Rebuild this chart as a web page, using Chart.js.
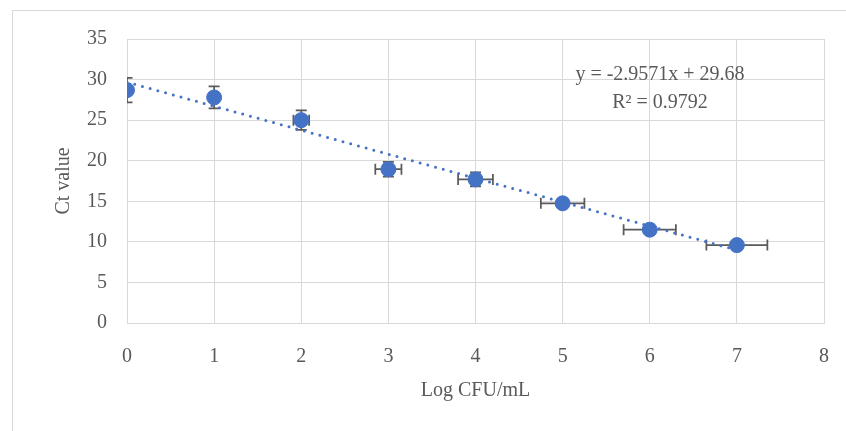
<!DOCTYPE html>
<html>
<head>
<meta charset="utf-8">
<script src="https://cdn.jsdelivr.net/npm/chart.js@4"></script>
<style>
  html, body { margin: 0; padding: 0; background: #fff; overflow: hidden; }
  #wrap { position: relative; width: 846px; height: 431px; }
  #frame { position: absolute; left: 12px; top: 10px; width: 1000px; height: 1000px; border: 1px solid #d9d9d9; pointer-events: none; }
</style>
</head>
<body>
<div id="wrap">
  <canvas id="ctChart" width="846" height="431"></canvas>
  <div id="frame"></div>
</div>
<script>
// data
const logCfu = [0, 1, 2, 3, 4, 5, 6, 7];
const ctMean = [28.7, 27.8, 25.0, 18.95, 17.7, 14.75, 11.5, 9.6];
const ctErr = [1.5, 1.35, 1.2, 0.9, 0.85, 0.3, 0.3, 0.3];
const logErr = [0, 0, 0.09, 0.15, 0.2, 0.25, 0.3, 0.35];
const slope = -2.9571;
const intercept = 29.68;
const rSquared = 0.9792;

const textColor = '#595959';
const gridColor = '#d9d9d9';
const blue = '#4472c4';
const fontFamily = '"Liberation Serif", "Times New Roman", serif';

const points = logCfu.map((x, i) => ({ x: x, y: ctMean[i] }));
const trend = [logCfu[0], logCfu[logCfu.length - 1]].map(x => ({ x: x, y: slope * x + intercept }));

// error bars drawn behind the markers
const errorBars = {
  id: 'errorBars',
  beforeDatasetsDraw(chart) {
    const { ctx, chartArea, scales: { x, y } } = chart;
    const cap = 5.5;
    ctx.save();
    ctx.beginPath();
    ctx.rect(chartArea.left, chartArea.top, chartArea.right - chartArea.left, chartArea.bottom - chartArea.top);
    ctx.clip();
    ctx.strokeStyle = '#5a5a5a';
    ctx.lineWidth = 1.75;
    logCfu.forEach((v, i) => {
      const px = x.getPixelForValue(v);
      const py = y.getPixelForValue(ctMean[i]);
      if (ctErr[i] > 0) {
        const y1 = y.getPixelForValue(ctMean[i] + ctErr[i]);
        const y2 = y.getPixelForValue(ctMean[i] - ctErr[i]);
        ctx.beginPath();
        ctx.moveTo(px, y1); ctx.lineTo(px, y2);
        ctx.moveTo(px - cap, y1); ctx.lineTo(px + cap, y1);
        ctx.moveTo(px - cap, y2); ctx.lineTo(px + cap, y2);
        ctx.stroke();
      }
      if (logErr[i] > 0) {
        const x1 = x.getPixelForValue(v - logErr[i]);
        const x2 = x.getPixelForValue(v + logErr[i]);
        ctx.beginPath();
        ctx.moveTo(x1, py); ctx.lineTo(x2, py);
        ctx.moveTo(x1, py - cap); ctx.lineTo(x1, py + cap);
        ctx.moveTo(x2, py - cap); ctx.lineTo(x2, py + cap);
        ctx.stroke();
      }
    });
    ctx.restore();
  }
};

// trendline equation label
const equationLabel = {
  id: 'equationLabel',
  afterDraw(chart) {
    const { ctx, chartArea } = chart;
    const cx = chartArea.left + 533;
    ctx.save();
    ctx.fillStyle = textColor;
    ctx.font = '20px ' + fontFamily;
    ctx.textAlign = 'center';
    ctx.textBaseline = 'middle';
    ctx.fillText('y = ' + slope + 'x + ' + intercept, cx, chartArea.top + 36);
    ctx.fillText('R² = ' + rSquared, cx, chartArea.top + 64);
    ctx.restore();
  }
};

const ctx = document.getElementById('ctChart').getContext('2d');
new Chart(ctx, {
  type: 'scatter',
  data: {
    datasets: [{
      label: 'Ct',
      data: points,
      backgroundColor: blue,
      borderColor: blue,
      pointRadius: 7.5,
      pointHoverRadius: 7.5
    }, {
      label: 'Linear',
      data: trend,
      showLine: true,
      borderColor: blue,
      borderWidth: 3,
      borderDash: [0, 8],
      borderCapStyle: 'round',
      pointRadius: 0,
      fill: false
    }]
  },
  options: {
    responsive: false,
    animation: false,
    layout: { padding: { left: 48, right: 22, top: 39, bottom: 24 } },
    plugins: { legend: { display: false }, tooltip: { enabled: false } },
    scales: {
      x: {
        type: 'linear',
        min: 0,
        max: 8,
        afterFit: s => { s.height = 84; s.paddingLeft = 0; s.paddingRight = 0; },
        ticks: { stepSize: 1, color: textColor, padding: 22, font: { family: fontFamily, size: 20 } },
        grid: { color: gridColor, drawTicks: false },
        border: { color: gridColor },
        title: { display: true, text: 'Log CFU/mL', color: textColor, font: { family: fontFamily, size: 20 } }
      },
      y: {
        min: 0,
        max: 35,
        afterFit: s => { s.width = 79; s.paddingTop = 0; s.paddingBottom = 0; },
        ticks: { stepSize: 5, color: textColor, padding: 20, font: { family: fontFamily, size: 20 } },
        grid: { color: gridColor, drawTicks: false },
        border: { color: gridColor },
        title: { display: true, text: 'Ct value', color: textColor, font: { family: fontFamily, size: 20 } }
      }
    }
  },
  plugins: [errorBars, equationLabel]
});
</script>
</body>
</html>
